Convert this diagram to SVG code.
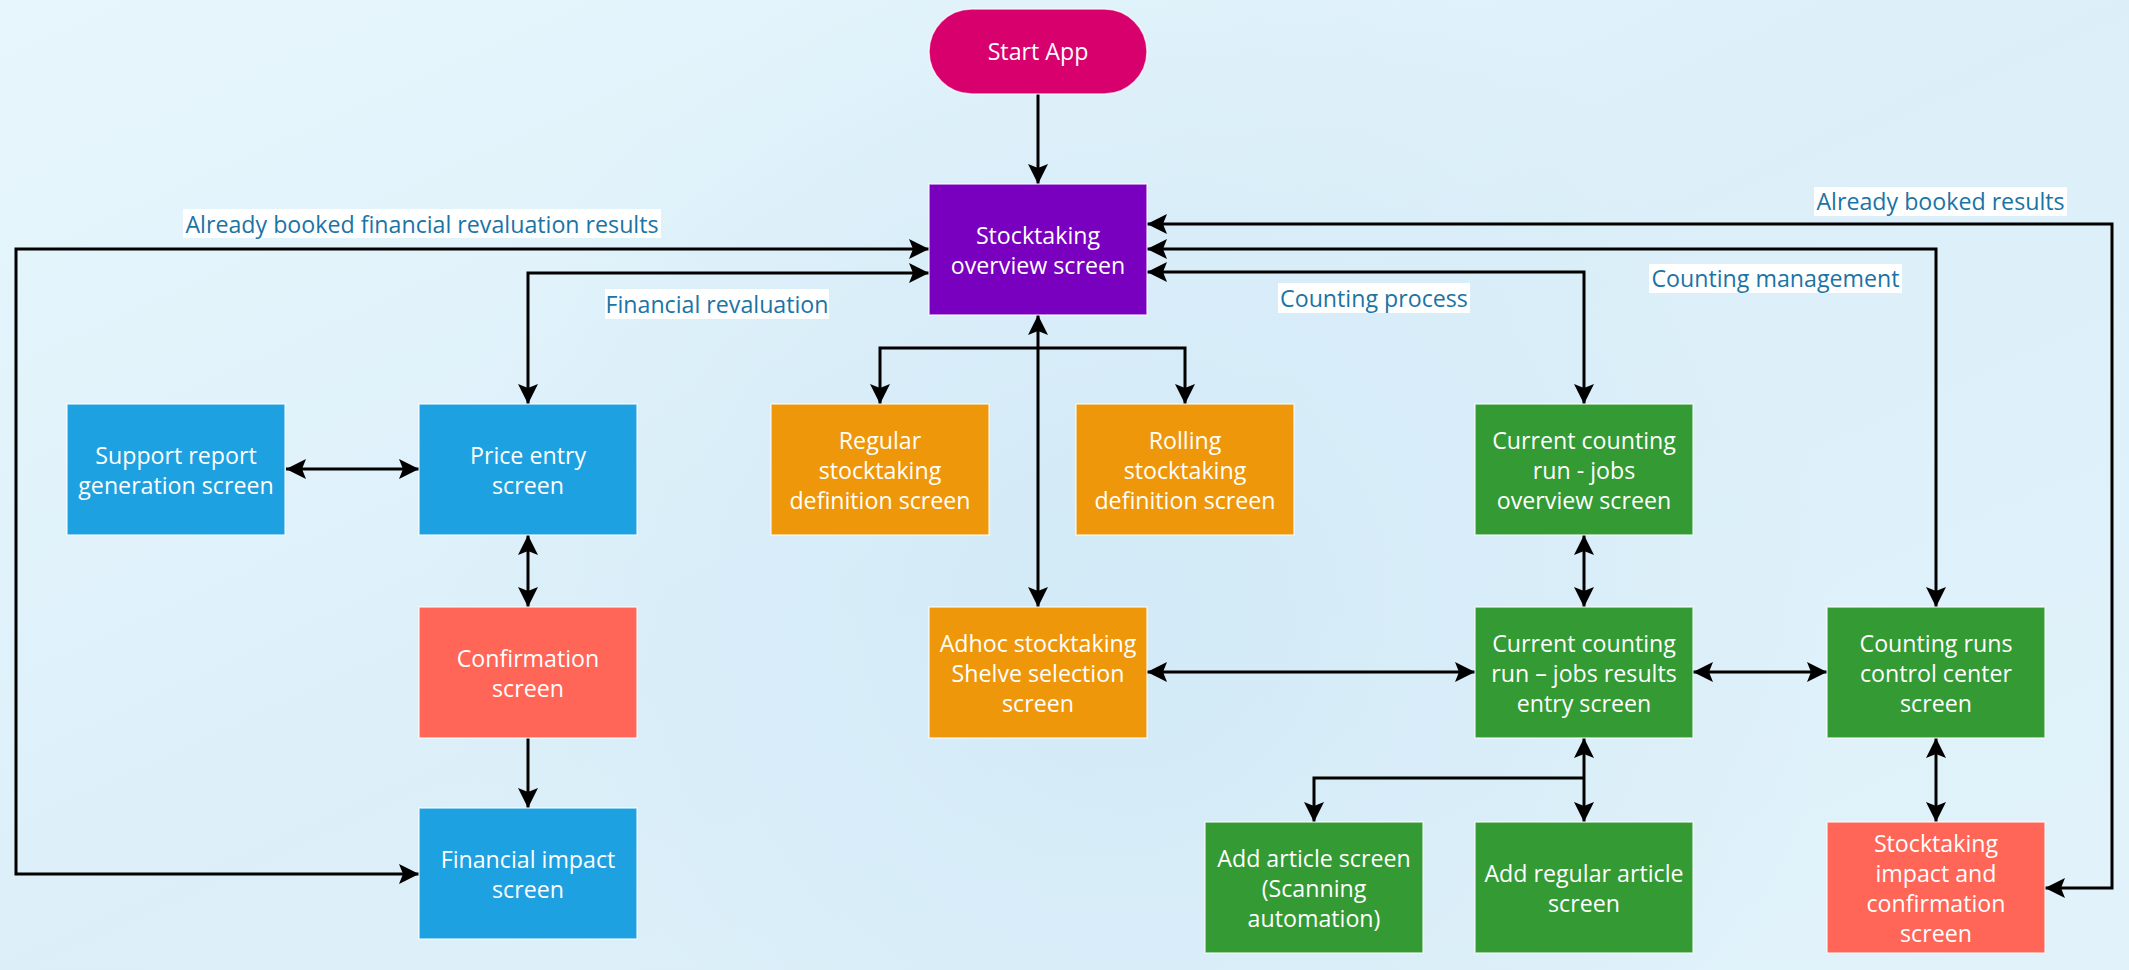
<svg xmlns="http://www.w3.org/2000/svg" width="2129" height="970" viewBox="0 0 2129 970">
<defs>
<linearGradient id="bg" x1="0" y1="0" x2="1" y2="1">
<stop offset="0" stop-color="#E7F6FC"/>
<stop offset="0.5" stop-color="#DCEFF9"/>
<stop offset="1" stop-color="#E1F2FA"/>
</linearGradient>
<radialGradient id="glow" cx="1130" cy="620" r="700" gradientUnits="userSpaceOnUse">
<stop offset="0" stop-color="#D2EAF7" stop-opacity="1"/>
<stop offset="1" stop-color="#D2EAF7" stop-opacity="0"/>
</radialGradient>
<marker id="arr" viewBox="0 0 20 20" markerWidth="20" markerHeight="20" refX="20" refY="10" orient="auto-start-reverse" markerUnits="userSpaceOnUse">
<path d="M0,0 L20,10 L0,20 L4,10 z" fill="#000"/>
</marker>
<style>
.box{stroke:#ffffff;stroke-opacity:0.7;stroke-width:1.5}
.t{font-family:"Open Sans","Noto Sans","DejaVu Sans",sans-serif;font-size:23.2px;fill:#ffffff;text-anchor:middle;dominant-baseline:central}
.lb{font-family:"Open Sans","Noto Sans","DejaVu Sans",sans-serif;font-size:23.2px;fill:#1A74A6;text-anchor:middle;dominant-baseline:central}
.lbg{fill:#ffffff}
.c{fill:none;stroke:#000;stroke-width:3}
.blue{fill:#1DA1E1}
.sal{fill:#FF6657}
.org{fill:#EF970A}
.grn{fill:#339A34}
</style>
</defs>
<rect width="2129" height="970" fill="url(#bg)"/>
<rect width="2129" height="970" fill="url(#glow)"/>

<g id="connectors">
<path class="c" d="M1038,94 V184" marker-end="url(#arr)"/>
<path class="c" d="M419,874 H16 V249 H929" marker-start="url(#arr)" marker-end="url(#arr)"/>
<path class="c" d="M929,273 H528 V404" marker-start="url(#arr)" marker-end="url(#arr)"/>
<path class="c" d="M286,469 H419" marker-start="url(#arr)" marker-end="url(#arr)"/>
<path class="c" d="M528,535 V607" marker-start="url(#arr)" marker-end="url(#arr)"/>
<path class="c" d="M528,738 V808" marker-end="url(#arr)"/>
<path class="c" d="M1038,315 V607" marker-start="url(#arr)" marker-end="url(#arr)"/>
<path class="c" d="M1038,348 H880 V404" marker-end="url(#arr)"/>
<path class="c" d="M1038,348 H1185 V404" marker-end="url(#arr)"/>
<path class="c" d="M1147,224 H2112 V888 H2045" marker-start="url(#arr)" marker-end="url(#arr)"/>
<path class="c" d="M1147,249 H1936 V607" marker-start="url(#arr)" marker-end="url(#arr)"/>
<path class="c" d="M1147,272 H1584 V404" marker-start="url(#arr)" marker-end="url(#arr)"/>
<path class="c" d="M1584,535 V607" marker-start="url(#arr)" marker-end="url(#arr)"/>
<path class="c" d="M1147,672 H1475" marker-start="url(#arr)" marker-end="url(#arr)"/>
<path class="c" d="M1693,672 H1827" marker-start="url(#arr)" marker-end="url(#arr)"/>
<path class="c" d="M1936,738 V822" marker-start="url(#arr)" marker-end="url(#arr)"/>
<path class="c" d="M1584,738 V822" marker-start="url(#arr)" marker-end="url(#arr)"/>
<path class="c" d="M1584,778 H1314 V822" marker-end="url(#arr)"/>
</g>

<g id="labels">
<rect class="lbg" x="183" y="209" width="478" height="29"/>
<text class="lb" x="422" y="223.5">Already booked financial revaluation results</text>
<rect class="lbg" x="605" y="289" width="224" height="30"/>
<text class="lb" x="717" y="303.5">Financial revaluation</text>
<rect class="lbg" x="1278" y="283" width="192" height="30"/>
<text class="lb" x="1374" y="297.5">Counting process</text>
<rect class="lbg" x="1649" y="264" width="253" height="29"/>
<text class="lb" x="1775.5" y="278">Counting management</text>
<rect class="lbg" x="1814" y="187" width="253" height="29"/>
<text class="lb" x="1940.5" y="201">Already booked results</text>
</g>

<g id="start">
<rect class="box" x="929" y="9" width="218" height="85" rx="42.5" fill="#D7006D"/>
<text class="t" x="1038" y="51">Start App</text>
</g>
<g id="overview">
<rect class="box" x="929" y="184" width="218" height="131" fill="#7A00BF"/>
<text class="t" x="1038" y="235">Stocktaking</text>
<text class="t" x="1038" y="264.5">overview screen</text>
</g>
<g id="support">
<rect class="box blue" x="67" y="404" width="218" height="131"/>
<text class="t" x="176" y="454.5">Support report</text>
<text class="t" x="176" y="484.5">generation screen</text>
</g>
<g id="price">
<rect class="box blue" x="419" y="404" width="218" height="131"/>
<text class="t" x="528" y="454.5">Price entry</text>
<text class="t" x="528" y="484.5">screen</text>
</g>
<g id="confirmation">
<rect class="box sal" x="419" y="607" width="218" height="131"/>
<text class="t" x="528" y="657.5">Confirmation</text>
<text class="t" x="528" y="687.5">screen</text>
</g>
<g id="financial-impact">
<rect class="box blue" x="419" y="808" width="218" height="131"/>
<text class="t" x="528" y="858.5">Financial impact</text>
<text class="t" x="528" y="888.5">screen</text>
</g>
<g id="regular">
<rect class="box org" x="771" y="404" width="218" height="131"/>
<text class="t" x="880" y="439.5">Regular</text>
<text class="t" x="880" y="469.5">stocktaking</text>
<text class="t" x="880" y="499.5">definition screen</text>
</g>
<g id="rolling">
<rect class="box org" x="1076" y="404" width="218" height="131"/>
<text class="t" x="1185" y="439.5">Rolling</text>
<text class="t" x="1185" y="469.5">stocktaking</text>
<text class="t" x="1185" y="499.5">definition screen</text>
</g>
<g id="adhoc">
<rect class="box org" x="929" y="607" width="218" height="131"/>
<text class="t" x="1038" y="642.5">Adhoc stocktaking</text>
<text class="t" x="1038" y="672.5">Shelve selection</text>
<text class="t" x="1038" y="702.5">screen</text>
</g>
<g id="jobs-overview">
<rect class="box grn" x="1475" y="404" width="218" height="131"/>
<text class="t" x="1584" y="439.5">Current counting</text>
<text class="t" x="1584" y="469.5">run - jobs</text>
<text class="t" x="1584" y="499.5">overview screen</text>
</g>
<g id="results-entry">
<rect class="box grn" x="1475" y="607" width="218" height="131"/>
<text class="t" x="1584" y="642.5">Current counting</text>
<text class="t" x="1584" y="672.5">run – jobs results</text>
<text class="t" x="1584" y="702.5">entry screen</text>
</g>
<g id="control-center">
<rect class="box grn" x="1827" y="607" width="218" height="131"/>
<text class="t" x="1936" y="642.5">Counting runs</text>
<text class="t" x="1936" y="672.5">control center</text>
<text class="t" x="1936" y="702.5">screen</text>
</g>
<g id="add-article">
<rect class="box grn" x="1205" y="822" width="218" height="131"/>
<text class="t" x="1314" y="857.5">Add article screen</text>
<text class="t" x="1314" y="887.5">(Scanning</text>
<text class="t" x="1314" y="917.5">automation)</text>
</g>
<g id="add-regular">
<rect class="box grn" x="1475" y="822" width="218" height="131"/>
<text class="t" x="1584" y="872.5">Add regular article</text>
<text class="t" x="1584" y="902.5">screen</text>
</g>
<g id="impact">
<rect class="box sal" x="1827" y="822" width="218" height="131"/>
<text class="t" x="1936" y="842.5">Stocktaking</text>
<text class="t" x="1936" y="872.5">impact and</text>
<text class="t" x="1936" y="902.5">confirmation</text>
<text class="t" x="1936" y="932.5">screen</text>
</g>
</svg>
